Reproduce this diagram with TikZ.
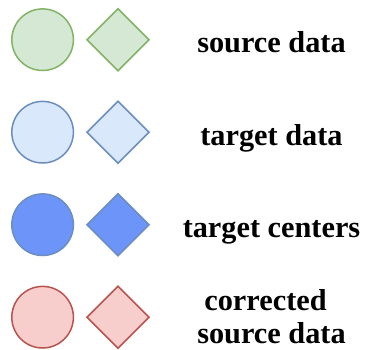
\documentclass[tikz,border=0pt]{standalone}
\usepackage{fontspec}
\setmainfont{Liberation Serif}
\usetikzlibrary{shapes.geometric}
\definecolor{srcfill}{HTML}{D5E8D4}
\definecolor{srcline}{HTML}{82B366}
\definecolor{tgtfill}{HTML}{DAE8FC}
\definecolor{tgtline}{HTML}{6C8EBF}
\definecolor{ctrfill}{HTML}{6D94F9}
\definecolor{ctrline}{HTML}{6C8EBF}
\definecolor{corfill}{HTML}{F8CECC}
\definecolor{corline}{HTML}{B85450}
\tikzset{
  dot/.style={circle, minimum size=61.6bp, inner sep=0pt, line width=1.5bp},
  gem/.style={diamond, minimum width=62.6bp, minimum height=62.6bp, inner sep=0pt, line width=1.5bp},
  srcset/.style={draw=srcline, fill=srcfill},
  tgtset/.style={draw=tgtline, fill=tgtfill},
  ctrset/.style={draw=ctrline, fill=ctrfill},
  corset/.style={draw=corline, fill=corfill},
  legendtext/.style={font=\bfseries\fontsize{30.3bp}{33.3bp}\selectfont, inner sep=0pt, anchor=base, align=center}
}
\begin{document}
\begin{tikzpicture}[x=1bp, y=-1bp]
  \useasboundingbox (0,0) rectangle (366,350);
  % source data
  \node[dot, srcset] (c1) at (42.6,39.7) {};
  \node[gem, srcset] (d1) at (118,39.7) {};
  \node[legendtext] (l1) at (271.5,52.7) {source data};
  % target data
  \node[dot, tgtset] (c2) at (42.6,132.2) {};
  \node[gem, tgtset] (d2) at (118,132.2) {};
  \node[legendtext] (l2) at (271.5,145.2) {target data};
  % target centers
  \node[dot, ctrset] (c3) at (42.6,224.7) {};
  \node[gem, ctrset] (d3) at (118,224.7) {};
  \node[legendtext] (l3) at (271.5,237.7) {target centers};
  % corrected source data (two lines, base = last line)
  \node[dot, corset] (c4) at (42.6,317.2) {};
  \node[gem, corset] (d4) at (118,317.2) {};
  \node[legendtext] (l4) at (271.5,343.3) {corrected\hspace*{12bp}\\source data};
\end{tikzpicture}
\end{document}
